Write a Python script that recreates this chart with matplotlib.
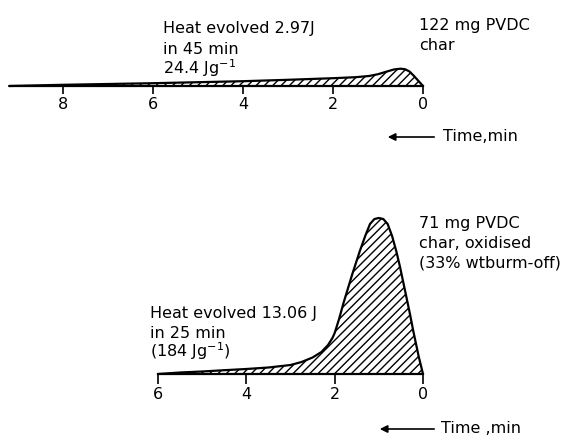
import matplotlib
matplotlib.use("Agg")
import matplotlib.pyplot as plt

plt.rcParams['font.family'] = ['DejaVu Sans']
plt.rcParams['hatch.linewidth'] = 1.0
plt.rcParams['mathtext.fontset'] = 'dejavusans'

# ---- data (time in min, heat-flow signal in arbitrary units) ----
top_time = [9.2, 8, 7, 6, 5, 4, 3, 2.5, 2, 1.5, 1.2, 1.0, 0.8, 0.65, 0.5, 0.4, 0.3, 0.2, 0.1, 0]
top_signal = [0, 1.2, 2.0, 2.8, 3.8, 4.8, 6.2, 7.0, 7.8, 8.8, 10.0, 11.8, 14.5, 16.5, 17.3, 16.8, 14.5, 10.0, 5.0, 0]

bot_time = [6, 5.5, 5, 4.5, 4, 3.5, 3, 2.75, 2.5, 2.3, 2.15, 2.05, 2.0, 1.9, 1.8, 1.6, 1.43, 1.3, 1.2,
            1.1, 1.0, 0.9, 0.8, 0.7, 0.6, 0.52, 0.4, 0.3, 0.22, 0.1, 0]
bot_signal = [0, 1.5, 2.5, 3.8, 5.0, 6.5, 9.0, 12.0, 16.5, 22.0, 29.0, 36.0, 41.0, 55.0, 71.0, 100.0, 123.0,
              139.0, 150.0, 155.0, 156.0, 155.0, 150.0, 138.0, 122.0, 107.0, 82.0, 61.0, 43.0, 18.0, 0]

top_ticks = [8, 6, 4, 2, 0]
bot_ticks = [6, 4, 2, 0]

top_text = ["Heat evolved 2.97J", "in 45 min", "24.4 Jg$^{-1}$"]
top_label = ["122 mg PVDC", "char"]
bot_text = ["Heat evolved 13.06 J", "in 25 min", "(184 Jg$^{-1}$)"]
bot_label = ["71 mg PVDC", "char, oxidised", "(33% wtburm-off)"]
axis_label_top = "Time,min"
axis_label_bot = "Time ,min"

W, H = 579, 436
FS = 11.5

fig = plt.figure(figsize=(W / 100, H / 100), dpi=100)


def style(ax, length):
    ax.patch.set_visible(False)
    for s in ['top', 'left', 'right']:
        ax.spines[s].set_visible(False)
    ax.spines['bottom'].set_linewidth(1.6)
    ax.set_yticks([])
    ax.tick_params(axis='x', direction='out', length=length, width=1.2, pad=2.5, labelsize=FS)


# top panel
ax1 = fig.add_axes([10 / W, (H - 86) / H, 413 / W, 30 / H])
ax1.fill_between(top_time, 0, top_signal, facecolor='none', edgecolor='black', hatch='////', linewidth=0)
ax1.plot(top_time, top_signal, color='black', lw=1.6, clip_on=False, solid_capstyle='round')
ax1.set_xlim(9.18, 0)
ax1.set_ylim(0, 30)
ax1.set_xticks(top_ticks)
ax1.set_xticklabels([str(t) for t in top_ticks])
style(ax1, 5.5)

# bottom panel
ax2 = fig.add_axes([158 / W, (H - 374) / H, 265 / W, 170 / H])
ax2.fill_between(bot_time, 0, bot_signal, facecolor='none', edgecolor='black', hatch='////', linewidth=0)
ax2.plot(bot_time, bot_signal, color='black', lw=1.6, clip_on=False, solid_capstyle='round')
ax2.set_xlim(6, 0)
ax2.set_ylim(0, 170)
ax2.set_xticks(bot_ticks)
ax2.set_xticklabels([str(t) for t in bot_ticks])
style(ax2, 7)


def lines(x, y0, texts, step=20):
    for i, s in enumerate(texts):
        fig.text(x / W, (H - (y0 + i * step)) / H, s, fontsize=FS, va='baseline', ha='left')


lines(163, 33, top_text, 20.5)
lines(419, 30, top_label, 20)
lines(150, 318, bot_text, 19.5)
lines(419, 228, bot_label, 19.5)


def time_arrow(x_tip, x_tail, y, tx, ty, label):
    fig.add_artist(matplotlib.patches.FancyArrowPatch(
        (x_tail / W, (H - y) / H), (x_tip / W, (H - y) / H), transform=fig.transFigure,
        arrowstyle='-|>', mutation_scale=11, lw=1.2, color='black'))
    fig.text(tx / W, (H - ty) / H, label, fontsize=FS, va='baseline', ha='left')


time_arrow(385, 437, 137, 443, 141, axis_label_top)
time_arrow(377, 437, 429, 441, 433, axis_label_bot)

fig.savefig("out.png", dpi=100)
